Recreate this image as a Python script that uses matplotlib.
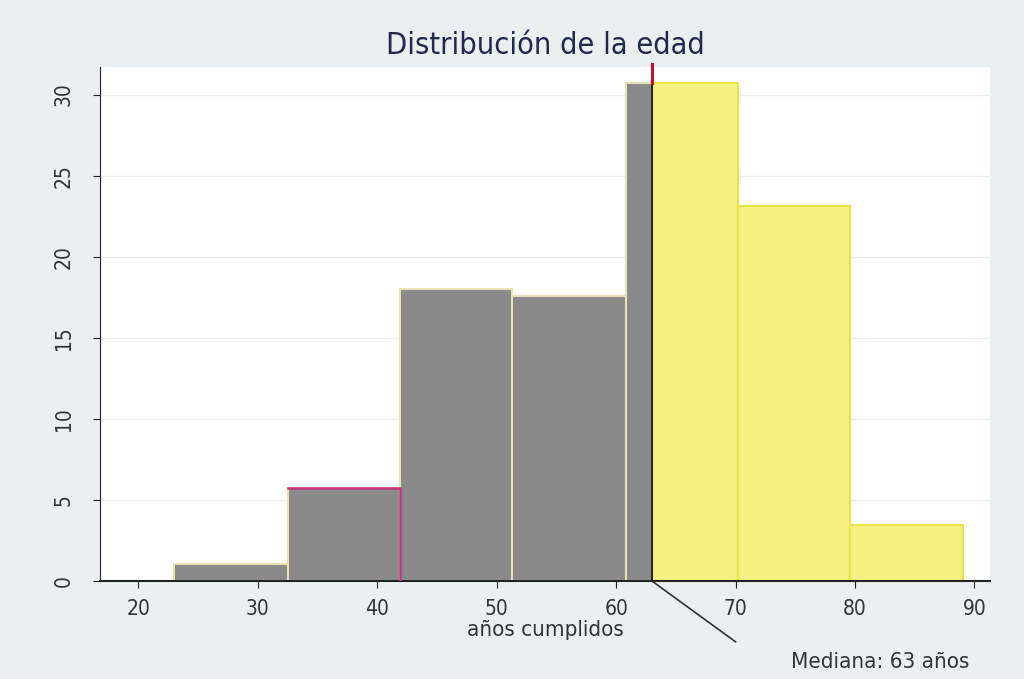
import matplotlib.pyplot as plt
from matplotlib.lines import Line2D

# bin edges (años) and percent heights
bin_left = [23.0, 32.5, 41.9, 51.3, 60.8, 63.0, 70.2, 79.6]
bin_width = [9.5, 9.4, 9.4, 9.5, 2.2, 7.2, 9.4, 9.4]
percent = [1.05, 5.75, 18.0, 17.55, 30.7, 30.7, 23.1, 3.45]
mediana = 63

yticks = [0, 5, 10, 15, 20, 25, 30]
xticks = [20, 30, 40, 50, 60, 70, 80, 90]

gray = '#8a8a8a'
yellow = '#f8f184'
font = 'DejaVu Sans'

fig = plt.figure(figsize=(10.24, 6.79), dpi=100, facecolor='#eaeff2')
ax = fig.add_axes([100/1024, 1 - 581/679, 890/1024, 514/679])
ax.set_facecolor('white')

for left, w, h in zip(bin_left, bin_width, percent):
    if left < mediana:
        ax.bar(left, h, width=w, align='edge', color=gray,
               edgecolor='#e6e2b4', linewidth=1.5, zorder=2)
    else:
        ax.bar(left, h, width=w, align='edge', color=yellow,
               edgecolor='#e9e34a', linewidth=1.5, zorder=2)

# magenta outline on the second bar (top and right)
l2, w2, h2 = bin_left[1], bin_width[1], percent[1]
ax.plot([l2, l2 + w2, l2 + w2], [h2, h2, 0], color='#c2357f', lw=1.8, zorder=3)

ax.set_xlim(16.8, 91.3)
ax.set_ylim(0, 31.7)
ax.set_yticks(yticks)
ax.set_xticks(xticks)
ax.grid(axis='y', color='#ededed', lw=1, zorder=0)

for s in ['top', 'right']:
    ax.spines[s].set_visible(False)
ax.spines['left'].set_color('#222222')
ax.spines['bottom'].set_color('#222222')
ax.spines['bottom'].set_linewidth(1.5)

ax.tick_params(axis='both', direction='out', length=5, color='#222222',
               labelcolor='#333333', labelsize=15)
for lab in ax.get_yticklabels():
    lab.set_rotation(90)
    lab.set_va('center')
    lab.set_stretch('condensed')
for lab in ax.get_xticklabels():
    lab.set_stretch('condensed')
ax.tick_params(axis='y', pad=14)
ax.tick_params(axis='x', pad=8)

# median line
ax.plot([mediana, mediana], [0, percent[4]], color='#222222', lw=1.5, zorder=4)
ax.add_line(Line2D([mediana, mediana], [percent[4], 31.9], color='#c0102a',
                   lw=2.2, zorder=4, clip_on=False))
ax.add_line(Line2D([mediana, 70.0], [0, -3.75], color='#333333', lw=1.2,
                   clip_on=False))
ax.text(89.6, -5.0, 'Mediana: 63 años', ha='right', va='center', fontsize=16,
        color='#333333', family=font, stretch='condensed')

ax.set_xlabel('años cumplidos', fontsize=16, color='#333333', family=font,
              stretch='condensed')
ax.xaxis.set_label_coords(0.5, -0.075)

fig.text(545/1024, 1 - 45/679, 'Distribución de la edad', ha='center',
         va='center', fontsize=22, color='#1f2a4c', family=font,
         stretch='condensed')

fig.savefig('out.png', dpi=100, facecolor=fig.get_facecolor())
